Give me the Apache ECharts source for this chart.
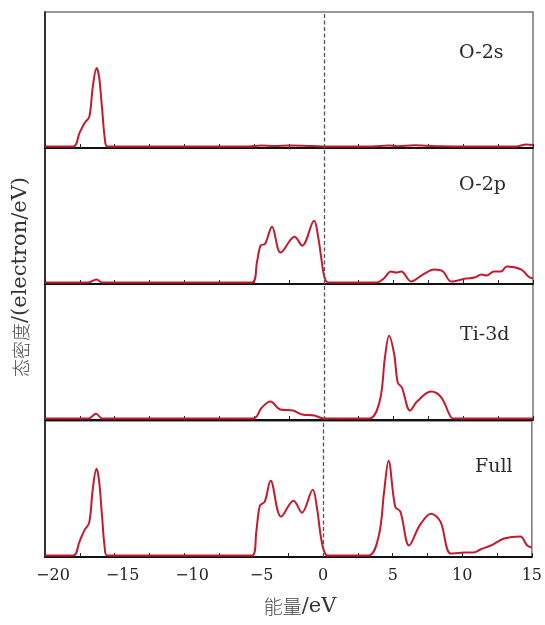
<!DOCTYPE html>
<html>
<head>
<meta charset="utf-8">
<script src="https://cdn.jsdelivr.net/npm/echarts@6/dist/echarts.min.js"></script>
<style>
  html, body { margin: 0; padding: 0; background: #fff; }
  #chart { width: 545px; height: 625px; }
</style>
</head>
<body>
<div id="chart"></div>
<script>
// 面板名称
var panelNames = ['O-2s', 'O-2p', 'Ti-3d', 'Full'];

// 各分态密度曲线 (能量 eV, 态密度 任意单位)
var o2sE = [-20, -17.97, -17.52, -17.14, -16.82, -16.57, -16.3, -16.12, -15.9, -15.7, -15.52, -5.4, -4.5, -3.5, -2.5, -1.5, -0.5, 0, 3.5, 4.6, 5.3, 6.5, 7.3, 8.5, 10, 13.8, 14.5, 15];
var o2sV = [0, 0, 13.7, 24, 30, 60, 78.7, 70, 37, 7, 0, 0, 1, 0.5, 1, 0.8, 0.3, 0, 0, 1, 0.3, 1.2, 0.8, 0.2, 0, 0, 2, 1.5];

var o2pE = [-20, -16.9, -16.3, -15.9, -5.17, -4.79, -4.54, -4.21, -3.72, -3.1, -2.1, -1.55, -0.7, -0.4, -0.18, 0.05, 0.32, 3.8, 4.3, 4.81, 5.18, 5.55, 6.26, 7.1, 7.93, 8.55, 9.13, 10.18, 10.8, 11.3, 11.68, 12.2, 12.7, 13.12, 14.17, 14.67, 15];
var o2pV = [0, 0, 3, 0, 0, 21, 37, 39, 56, 30, 46, 37, 62, 45, 24, 5, 0, 0, 4, 11, 10, 11, 1, 8, 13, 11, 1, 4, 5, 8, 7, 11, 11, 16, 13, 6, 4];

var ti3dE = [-20, -16.9, -16.33, -15.9, -5.05, -4.45, -3.83, -3.13, -2.21, -1.55, -0.68, 0, 3.25, 4.0, 4.38, 4.68, 5.05, 5.3, 5.6, 6.18, 6.68, 7.68, 8.43, 9.13, 9.4, 15];
var ti3dV = [0, 0, 4.7, 0, 0, 11, 17, 9, 8, 4, 3, 0, 0, 17, 61, 83, 64, 36, 31, 8, 17, 27, 21, 1, 0, 0];

var fullE = [-20, -17.97, -17.52, -17.14, -16.82, -16.57, -16.3, -16.12, -15.9, -15.7, -15.52, -5.1, -4.8, -4.55, -4.2, -3.78, -3.03, -2.13, -1.53, -0.75, -0.45, -0.18, 0.05, 0.32, 3.25, 4.0, 4.38, 4.7, 5.18, 5.55, 6.18, 6.93, 7.75, 8.43, 9.18, 10.18, 10.8, 11.3, 12.2, 13.0, 14.17, 14.67, 15];
var fullV = [0, 0, 14, 26, 33, 66, 87, 76, 40, 7, 0, 0, 25, 50, 54, 75, 39, 55, 43, 66, 48, 20, 5, 0, 0, 20, 64, 95, 49, 44, 10, 30, 42, 34, 2, 3, 3, 6, 11, 17, 19, 10, 8];

var energies = [o2sE, o2pE, ti3dE, fullE];
var values = [o2sV, o2pV, ti3dV, fullV];

var SERIF = '"DejaVu Serif", "Liberation Serif", serif';
var CJK = '"Noto Sans CJK SC", sans-serif';
var GRID_TOPS = [12, 148, 284, 421];
var GRID_H = 136;

function zip(xs, ys) {
    var out = [];
    for (var i = 0; i < xs.length; i++) out.push([xs[i], ys[i]]);
    return out;
}

var chart = echarts.init(document.getElementById('chart'));

var grids = [], xAxes = [], yAxes = [], series = [];
for (var i = 0; i < 4; i++) {
    var last = (i === 3);
    grids.push({
        left: 45, right: 12, top: GRID_TOPS[i], height: GRID_H,
        show: true, borderColor: '#777', borderWidth: 1.5, backgroundColor: 'transparent'
    });
    xAxes.push({
        gridIndex: i, type: 'value', min: -20, max: 15, interval: 5,
        axisLine: { show: true, onZero: false, lineStyle: { color: '#111', width: 1.8 } },
        axisTick: { show: true, inside: true, length: 4, lineStyle: { color: '#222', width: 1 } },
        minorTick: { show: true, splitNumber: 2, length: 4, lineStyle: { color: '#222', width: 1 } },
        splitLine: { show: false },
        axisLabel: {
            show: last, margin: 11, fontFamily: SERIF, fontSize: 16, color: '#222',
            showMinLabel: true, showMaxLabel: true,
            formatter: function (v) {
                return v < 0 ? '{n|\u2212' + Math.abs(v) + '}' : '{p|' + v + '}';
            },
            rich: {
                n: { fontFamily: SERIF, fontSize: 16, color: '#222', padding: [0, 0, 0, 16] },
                p: { fontFamily: SERIF, fontSize: 16, color: '#222' }
            }
        }
    });
    yAxes.push({
        gridIndex: i, type: 'value', min: -1.5, max: 135,
        axisLine: { show: true, onZero: false, lineStyle: { color: '#111', width: 1.5 } },
        axisTick: { show: false },
        axisLabel: { show: false }, splitLine: { show: false }
    });
    series.push({
        type: 'line', xAxisIndex: i, yAxisIndex: i,
        data: zip(energies[i], values[i]),
        smooth: 0.35, showSymbol: false, silent: true,
        lineStyle: { color: '#c41a2e', width: 2 },
        markLine: {
            silent: true, symbol: 'none', animation: false,
            label: { show: false },
            lineStyle: { color: '#555', type: [4, 2.5], width: 1.3 },
            data: [{ xAxis: 0 }]
        }
    });
}

// 面板标签位置 (左端 x, 中心 y)
var labelPos = [[459, 53], [459, 185], [460, 335], [475, 467]];
var graphics = [];
for (var j = 0; j < 4; j++) {
    graphics.push({
        type: 'text', x: labelPos[j][0], y: labelPos[j][1], silent: true,
        style: {
            text: panelNames[j], fill: '#2a2a2a', align: 'left', verticalAlign: 'middle',
            font: '19px ' + SERIF
        }
    });
}
graphics.push({
    type: 'text', x: 300, y: 607, silent: true,
    style: {
        text: '{c|能量}{l|/eV}', align: 'center', verticalAlign: 'middle',
        rich: {
            c: { fontFamily: CJK, fontSize: 19, fill: '#444', fontWeight: 300 },
            l: { fontFamily: SERIF, fontSize: 21, fill: '#333' }
        }
    }
});
graphics.push({
    type: 'text', x: 21, y: 277, rotation: Math.PI / 2, silent: true,
    style: {
        text: '{c|态密度}{l|/(electron/eV)}', align: 'center', verticalAlign: 'middle',
        rich: {
            c: { fontFamily: CJK, fontSize: 18, fill: '#444', fontWeight: 300 },
            l: { fontFamily: SERIF, fontSize: 21, fill: '#333' }
        }
    }
});

chart.setOption({
    animation: false,
    grid: grids,
    xAxis: xAxes,
    yAxis: yAxes,
    series: series,
    graphic: graphics
});
</script>
</body>
</html>
